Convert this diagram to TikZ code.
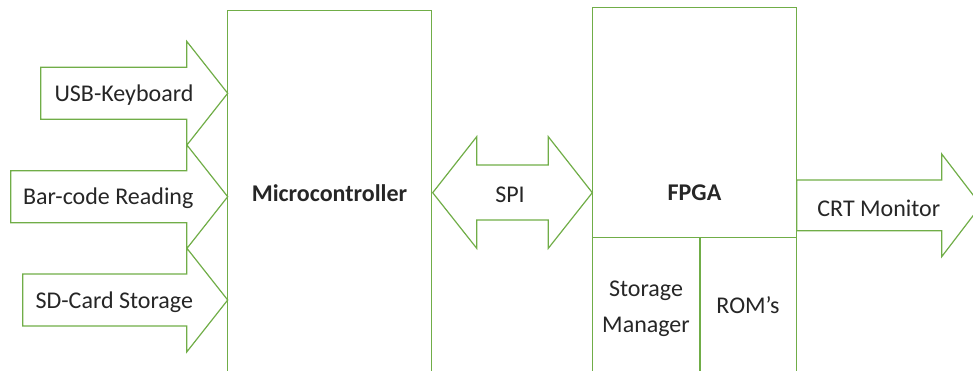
\documentclass[tikz,border=0pt]{standalone}
\usepackage{fontspec}
\setmainfont{Carlito}
\definecolor{blockgreen}{HTML}{70AD47}
\definecolor{labelgray}{HTML}{262626}
\begin{document}
\begin{tikzpicture}[x=1pt,y=-1pt,
  outline/.style={draw=blockgreen, line width=1.2pt, line join=miter},
  lbl/.style={text=labelgray, inner sep=0pt, anchor=base,
    font=\fontsize{24}{29}\selectfont},
  boldlbl/.style={lbl, font=\fontsize{24}{29}\selectfont\bfseries}]
\useasboundingbox (0,0) rectangle (973,370);
\clip (0,0) rectangle (973,370);

% main blocks (they run past the lower edge)
\coordinate (mcNW) at (227.7,10.7);
\coordinate (mcSE) at (431.7,400);
\draw[outline] (mcNW) rectangle (mcSE);

\coordinate (fpNW) at (592.3,7.3);
\coordinate (fpSE) at (796.7,400);
\coordinate (divL) at (592.3,237.7);
\coordinate (divR) at (796.7,237.7);
\coordinate (divT) at (700,237.7);
\coordinate (divB) at (700,400);
\draw[outline] (fpNW) rectangle (fpSE);
\draw[outline] (divL) -- (divR);
\draw[outline] (divT) -- (divB);

% input block arrows into the microcontroller
\foreach \name/\cy/\bx in {usb/93.3/40.7, bar/196.7/10.7, sd/300/22.7}{
  \draw[outline] (\bx,\cy-26) -- (186.7,\cy-26) -- (186.7,\cy-52)
    -- (227.7,\cy) coordinate (\name tip)
    -- (186.7,\cy+52) -- (186.7,\cy+26) -- (\bx,\cy+26) -- cycle;
}

% SPI double arrow
\draw[outline] (432.7,192.7) coordinate (spiL)
  -- (476.7,136.7) -- (476.7,165) -- (548.3,165) -- (548.3,136.7)
  -- (592.3,192.7) coordinate (spiR)
  -- (548.3,248.3) -- (548.3,220) -- (476.7,220) -- (476.7,248.3) -- cycle;

% output arrow to the monitor
\draw[outline] (796.7,180) -- (941.7,180) -- (941.7,154)
  -- (981,205.3) coordinate (crtTip)
  -- (941.7,256.7) -- (941.7,230.7) -- (796.7,230.7) -- cycle;

% labels
\node[lbl] (usb) at (124,101.7) {USB-Keyboard};
\node[lbl] (bar) at (108.3,204) {Bar-code Reading};
\node[lbl] (sd) at (114.3,308.3) {SD-Card Storage};
\node[boldlbl] (mc) at (329.5,201.7) {Microcontroller};
\node[lbl] (spi) at (510,202.3) {SPI};
\node[boldlbl] (fpga) at (694.5,200) {FPGA};
\node[lbl] (crt) at (878.8,216.7) {CRT Monitor};
\node[text=labelgray, inner sep=0pt, align=center,
  font=\fontsize{24}{35.7}\selectfont] (sm) at (646,309) {Storage\\Manager};
\node[lbl] (rom) at (748,313.3) {ROM’s};
\end{tikzpicture}
\end{document}
